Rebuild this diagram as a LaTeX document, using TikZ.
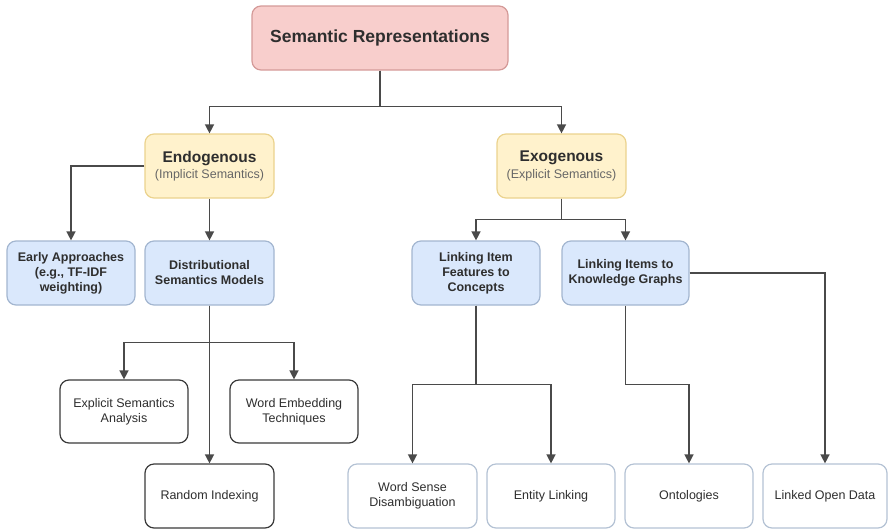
\documentclass[tikz,border=0pt]{standalone}
\usepackage{fontspec}
\setmainfont{Liberation Sans}
\usetikzlibrary{arrows.meta}

\definecolor{pinkfill}{HTML}{F8CECC}
\definecolor{pinkline}{HTML}{D49A98}
\definecolor{yelfill}{HTML}{FFF2CC}
\definecolor{yelline}{HTML}{EBD38E}
\definecolor{bluefill}{HTML}{DAE8FC}
\definecolor{blueline}{HTML}{A3B6D0}
\definecolor{leafline}{HTML}{B4C2D4}
\definecolor{darkline}{HTML}{3A3A3A}
\definecolor{ink}{HTML}{2E2E2E}
\definecolor{subink}{HTML}{666666}
\definecolor{wire}{HTML}{4A4A4A}

\tikzset{
  box/.style={rounded corners=9pt, line width=1.2pt, align=center,
    inner sep=0pt, text=ink, minimum height=64pt},
  rootbox/.style={box, fill=pinkfill, draw=pinkline,
    font=\fontsize{17.5}{21}\selectfont\bfseries},
  catbox/.style={box, fill=yelfill, draw=yelline},
  midbox/.style={box, fill=bluefill, draw=blueline,
    font=\fontsize{12.5}{15}\selectfont\bfseries},
  leafdark/.style={box, fill=white, draw=darkline,
    font=\fontsize{12.5}{15}\selectfont},
  leaflight/.style={box, fill=white, draw=leafline,
    font=\fontsize{12.5}{15}\selectfont},
  wire/.style={draw=wire, line width=1.4pt},
  arr/.style={wire, -{Triangle[width=9pt,length=9pt]}}
}

\newcommand{\cattext}[2]{{\fontsize{15.5}{18}\selectfont\bfseries #1}\\[3pt]
  {\fontsize{12.5}{15}\selectfont\color{subink}#2}}

\begin{document}
\begin{tikzpicture}[x=1pt,y=-1pt]
  \useasboundingbox (0,0) rectangle (889,531);

  % top level
  \node[rootbox, minimum width=256pt] (root) at (380,38) {Semantic Representations};

  % two families
  \node[catbox, minimum width=129pt] (endo) at (209.5,166) {\cattext{Endogenous}{(Implicit Semantics)}};
  \node[catbox, minimum width=129pt] (exo) at (561.5,166) {\cattext{Exogenous}{(Explicit Semantics)}};

  % approaches
  \node[midbox, minimum width=128pt] (early) at (71,273) {Early Approaches\\(e.g., TF-IDF\\weighting)};
  \node[midbox, minimum width=129pt] (dist) at (209.5,273) {Distributional\\Semantics Models};
  \node[midbox, minimum width=128pt] (lif) at (476,273) {Linking Item\\Features to\\Concepts};
  \node[midbox, minimum width=127pt] (kg) at (625.5,273) {Linking Items to\\Knowledge Graphs};

  % techniques
  \node[leafdark, minimum width=128pt, minimum height=63pt] (esa) at (124,411.5) {Explicit Semantics\\Analysis};
  \node[leafdark, minimum width=128pt, minimum height=63pt] (wet) at (294,411.5) {Word Embedding\\Techniques};
  \node[leafdark, minimum width=129pt] (ri) at (209.5,496) {Random Indexing};
  \node[leaflight, minimum width=129pt] (wsd) at (412.5,496) {Word Sense\\Disambiguation};
  \node[leaflight, minimum width=128pt] (el) at (551,496) {Entity Linking};
  \node[leaflight, minimum width=128pt] (ont) at (689,496) {Ontologies};
  \node[leaflight, minimum width=124pt] (lod) at (825,496) {Linked Open Data};

  % connectors
  \draw[arr] (root.south) -- ++(0,36) -| (endo.north);
  \draw[arr] (root.south) -- ++(0,36) -| (exo.north);

  \draw[arr] (endo.west) -| (early.north);
  \draw[arr] (endo.south) -- (dist.north);

  \draw[arr] (exo.south) -- ++(0,21) -| (lif.north);
  \draw[arr] (exo.south) -- ++(0,21) -| (kg.north);

  \draw[arr] (dist.south) -- (ri.north);
  \draw[arr] (dist.south) -- ++(0,37) -| (esa.north);
  \draw[arr] (dist.south) -- ++(0,37) -| (wet.north);

  \draw[arr] (lif.south) -- ++(0,79) -| (wsd.north);
  \draw[arr] (lif.south) -- ++(0,79) -| (el.north);

  \draw[arr] (kg.south) -- ++(0,79) -| (ont.north);
  \draw[arr] (kg.east) -| (lod.north);
\end{tikzpicture}
\end{document}
